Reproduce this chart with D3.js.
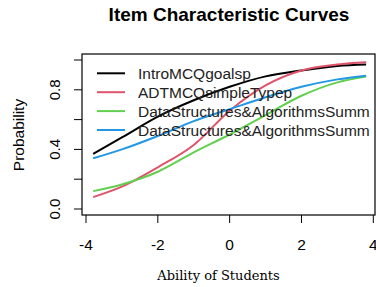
<!DOCTYPE html>
<html>
<head>
<meta charset="utf-8">
<script src="https://cdn.jsdelivr.net/npm/d3@7"></script>
<style>
  body { margin: 0; background: #fff; }
  text { font-family: "Liberation Sans", Arial, sans-serif; fill: #000; }
</style>
</head>
<body>
<svg id="chart" width="376" height="287"></svg>
<script>
// ability grid and read-off probabilities per item
const theta = [-3.8, -3, -2, -1, 0, 1, 2, 3, 3.8];
const introMCQ = [0.37, 0.48, 0.62, 0.73, 0.82, 0.89, 0.93, 0.96, 0.97];
const adtMCQ = [0.08, 0.15, 0.28, 0.43, 0.66, 0.83, 0.93, 0.97, 0.985];
const dsaSumm1 = [0.12, 0.165, 0.25, 0.38, 0.50, 0.63, 0.76, 0.85, 0.89];
const dsaSumm2 = [0.34, 0.40, 0.49, 0.59, 0.67, 0.75, 0.82, 0.87, 0.895];

const itemNames = ["IntroMCQgoalsp", "ADTMCQsimpleTypep",
  "DataStructures&AlgorithmsSumm", "DataStructures&AlgorithmsSumm"];
const itemColors = ["#000000", "#DF536B", "#61D04F", "#2297E6"];
const xTicks = [-4, -2, 0, 2, 4];
const yTicks = [0, 0.2, 0.4, 0.6, 0.8, 1];
const yLabels = [0, 0.4, 0.8];

const svg = d3.select("#chart");
const box = {left: 82, right: 375, top: 54, bottom: 215};

const x = d3.scaleLinear().domain([-4, 4]).range([86, 373.3]);
const y = d3.scaleLinear().domain([0, 1]).range([209, 60]);

const series = [introMCQ, adtMCQ, dsaSumm1, dsaSumm2].map((vals, i) => ({
  name: itemNames[i],
  color: itemColors[i],
  points: theta.map((t, j) => ({t, p: vals[j]}))
}));

const line = d3.line()
  .x(d => x(d.t))
  .y(d => y(d.p))
  .curve(d3.curveMonotoneX);

// plot frame
svg.append("rect")
  .attr("x", box.left).attr("y", box.top)
  .attr("width", box.right - box.left).attr("height", box.bottom - box.top)
  .attr("fill", "none").attr("stroke", "#000").attr("stroke-width", 1.2);

// x axis ticks
const xg = svg.append("g");
xg.selectAll("line").data(xTicks).join("line")
  .attr("x1", d => x(d)).attr("x2", d => x(d))
  .attr("y1", box.bottom).attr("y2", box.bottom + 8)
  .attr("stroke", "#000");
xg.selectAll("text").data(xTicks).join("text")
  .attr("x", d => x(d)).attr("y", 250)
  .attr("text-anchor", "middle")
  .style("font-size", "15.5px")
  .text(d => d);

// y axis ticks
const yg = svg.append("g");
yg.selectAll("line").data(yTicks).join("line")
  .attr("x1", box.left - 8).attr("x2", box.left)
  .attr("y1", d => y(d)).attr("y2", d => y(d))
  .attr("stroke", "#000");
yg.selectAll("text").data(yLabels).join("text")
  .attr("transform", d => `translate(60,${y(d)}) rotate(-90)`)
  .attr("text-anchor", "middle")
  .style("font-size", "15px")
  .text(d => d3.format(".1f")(d));

// curves
svg.append("g").selectAll("path").data(series).join("path")
  .attr("d", d => line(d.points))
  .attr("fill", "none")
  .attr("stroke", d => d.color)
  .attr("stroke-width", 2);

// legend
const lg = svg.append("g").selectAll("g").data(series).join("g")
  .attr("transform", (d, i) => `translate(97,${73.3 + i * 18.9})`);
lg.append("line")
  .attr("x1", 0).attr("x2", 28)
  .attr("stroke", d => d.color).attr("stroke-width", 2);
lg.append("text")
  .attr("x", 41).attr("dy", "0.36em")
  .style("font-size", "15.5px")
  .style("fill", "#222")
  .text(d => d.name);

// titles
svg.append("text")
  .attr("x", 229).attr("y", 21)
  .attr("text-anchor", "middle")
  .style("font-size", "19px").style("font-weight", "bold")
  .text("Item Characteristic Curves");

svg.append("text")
  .attr("x", 218.5).attr("y", 280)
  .attr("text-anchor", "middle")
  .style("font-family", "'DejaVu Serif', serif")
  .style("font-size", "13px")
  .text("Ability of Students");

svg.append("text")
  .attr("transform", "translate(24,135) rotate(-90)")
  .attr("text-anchor", "middle")
  .style("font-size", "15.5px")
  .text("Probability");
</script>
</body>
</html>
